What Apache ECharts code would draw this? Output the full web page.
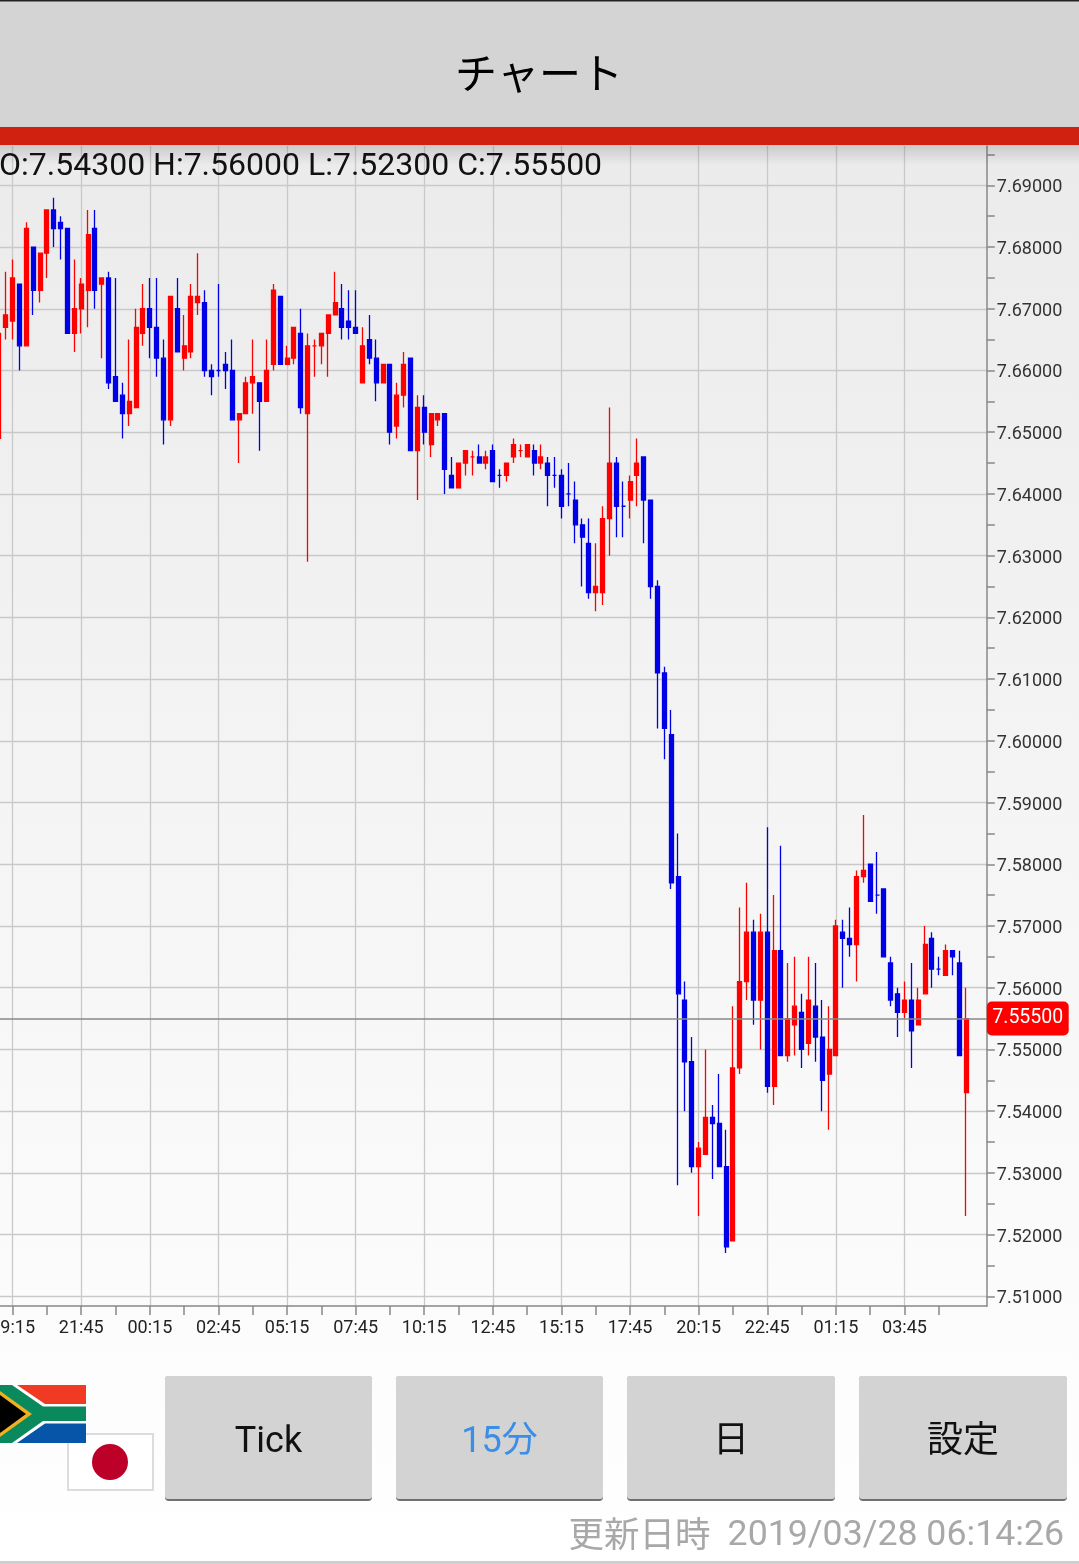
<!DOCTYPE html>
<html><head><meta charset="utf-8">
<style>html,body{margin:0;padding:0;background:#fff;overflow:hidden}#c{width:1079px;height:1564px}</style>
<script src="https://cdn.jsdelivr.net/npm/echarts@6/dist/echarts.min.js"></script>
</head><body><div id="c"></div>
<script>
const startTime = [18, 45];
const axisPadCount = 3;
const opens = [7.649,7.667,7.668,7.674,7.664,7.680,7.673,7.679,7.686,7.684,7.683,7.666,7.670,7.673,7.683,7.674,7.675,7.659,7.656,7.653,7.654,7.666,7.670,7.667,7.662,7.652,7.670,7.662,7.663,7.671,7.671,7.660,7.660,7.661,7.660,7.652,7.653,7.658,7.658,7.655,7.661,7.672,7.661,7.662,7.666,7.653,7.664,7.664,7.666,7.669,7.670,7.668,7.667,7.658,7.665,7.662,7.658,7.661,7.651,7.656,7.662,7.647,7.654,7.648,7.652,7.653,7.643,7.641,7.645,7.646,7.646,7.645,7.647,7.643,7.643,7.646,7.647,7.646,7.647,7.645,7.645,7.643,7.643,7.640,7.639,7.635,7.632,7.624,7.624,7.636,7.645,7.638,7.639,7.643,7.646,7.639,7.625,7.611,7.601,7.578,7.558,7.548,7.531,7.533,7.539,7.538,7.531,7.519,7.547,7.561,7.569,7.558,7.569,7.544,7.566,7.549,7.554,7.556,7.551,7.557,7.552,7.546,7.549,7.569,7.568,7.567,7.578,7.580,7.575,7.576,7.564,7.559,7.556,7.558,7.554,7.559,7.568,7.563,7.562,7.566,7.564,7.543];
const closes = [7.666,7.669,7.675,7.664,7.683,7.673,7.679,7.686,7.683,7.683,7.666,7.670,7.674,7.682,7.673,7.675,7.658,7.655,7.653,7.655,7.667,7.670,7.667,7.662,7.652,7.672,7.663,7.664,7.672,7.672,7.660,7.659,7.660,7.660,7.652,7.653,7.658,7.659,7.655,7.660,7.673,7.661,7.662,7.667,7.654,7.664,7.664,7.666,7.669,7.671,7.667,7.667,7.666,7.664,7.662,7.658,7.661,7.650,7.656,7.661,7.647,7.654,7.650,7.653,7.653,7.644,7.641,7.645,7.647,7.646,7.645,7.646,7.642,7.643,7.645,7.648,7.647,7.648,7.645,7.646,7.643,7.643,7.638,7.640,7.635,7.633,7.624,7.625,7.636,7.645,7.638,7.638,7.642,7.645,7.639,7.625,7.611,7.602,7.577,7.559,7.548,7.531,7.534,7.539,7.538,7.531,7.518,7.547,7.561,7.569,7.558,7.569,7.544,7.566,7.549,7.555,7.557,7.550,7.558,7.552,7.545,7.550,7.570,7.568,7.567,7.578,7.579,7.574,7.575,7.565,7.558,7.556,7.558,7.553,7.558,7.567,7.563,7.563,7.566,7.565,7.549,7.555];
const lows = [7.649,7.665,7.665,7.660,7.664,7.669,7.671,7.675,7.680,7.678,7.666,7.663,7.666,7.667,7.670,7.662,7.657,7.655,7.649,7.651,7.654,7.664,7.662,7.659,7.648,7.651,7.663,7.660,7.662,7.669,7.659,7.656,7.659,7.657,7.652,7.645,7.653,7.653,7.647,7.655,7.660,7.661,7.661,7.661,7.653,7.629,7.659,7.661,7.659,7.669,7.665,7.665,7.666,7.658,7.661,7.655,7.658,7.648,7.649,7.654,7.647,7.639,7.648,7.646,7.651,7.640,7.641,7.641,7.643,7.643,7.645,7.644,7.642,7.641,7.642,7.645,7.646,7.646,7.643,7.644,7.638,7.641,7.636,7.638,7.632,7.625,7.623,7.621,7.622,7.630,7.633,7.633,7.636,7.638,7.632,7.623,7.602,7.597,7.576,7.528,7.540,7.530,7.523,7.533,7.529,7.531,7.517,7.519,7.546,7.558,7.554,7.550,7.543,7.541,7.549,7.548,7.549,7.547,7.549,7.548,7.540,7.537,7.549,7.560,7.565,7.561,7.577,7.574,7.572,7.565,7.557,7.552,7.555,7.547,7.554,7.559,7.560,7.562,7.562,7.562,7.549,7.523];
const highs = [7.666,7.676,7.678,7.674,7.684,7.680,7.679,7.686,7.688,7.685,7.683,7.678,7.675,7.686,7.686,7.675,7.676,7.675,7.658,7.665,7.670,7.674,7.675,7.675,7.665,7.672,7.675,7.669,7.674,7.679,7.673,7.661,7.674,7.663,7.665,7.653,7.659,7.665,7.658,7.665,7.674,7.672,7.664,7.667,7.670,7.666,7.665,7.666,7.669,7.676,7.674,7.673,7.673,7.667,7.669,7.665,7.661,7.661,7.658,7.663,7.662,7.656,7.656,7.653,7.653,7.653,7.646,7.645,7.647,7.647,7.648,7.647,7.648,7.644,7.645,7.649,7.648,7.648,7.648,7.648,7.646,7.646,7.644,7.645,7.642,7.636,7.636,7.632,7.638,7.654,7.646,7.642,7.643,7.649,7.646,7.639,7.626,7.612,7.605,7.585,7.561,7.552,7.535,7.550,7.541,7.546,7.537,7.557,7.573,7.577,7.571,7.572,7.586,7.575,7.583,7.564,7.565,7.559,7.565,7.564,7.558,7.557,7.571,7.571,7.573,7.579,7.588,7.580,7.582,7.576,7.565,7.560,7.561,7.564,7.560,7.570,7.569,7.565,7.567,7.566,7.566,7.560];
const currentPrice = 7.555;
const priceTicks = [7.51,7.515,7.52,7.525,7.53,7.535,7.54,7.545,7.55,7.555,7.56,7.565,7.57,7.575,7.58,7.585,7.59,7.595,7.60,7.605,7.61,7.615,7.62,7.625,7.63,7.635,7.64,7.645,7.65,7.655,7.66,7.665,7.67,7.675,7.68,7.685,7.69,7.695];
const priceLabels = [7.51,7.52,7.53,7.54,7.55,7.56,7.57,7.58,7.59,7.60,7.61,7.62,7.63,7.64,7.65,7.66,7.67,7.68,7.69];
const blueDojiIndexes = [32,73,81,83,91,128,137];
const ohlcText = "O:7.54300 H:7.56000 L:7.52300 C:7.55500";
const titleText = "チャート";
const buttonLabels = ["Tick","15分","日","設定"];
const updatedLabel = "更新日時";
const updatedStamp = "2019/03/28 06:14:26";

const categories = [];
for (let i = 0; i < opens.length + axisPadCount; i++) {
  const m = startTime[0] * 60 + startTime[1] + i * 15;
  const h = Math.floor(m / 60) % 24, n = m % 60;
  categories.push(String(h).padStart(2, "0") + ":" + String(n).padStart(2, "0"));
}
const RED = "#ff0000", BLUE = "#0000e6";
const candleData = opens.map((o, i) => {
  const v = [o, closes[i], lows[i], highs[i]];
  if (blueDojiIndexes.includes(i)) return { value: v, itemStyle: { color: BLUE, color0: BLUE, borderColor: BLUE, borderColor0: BLUE } };
  if (o === closes[i]) return { value: v, itemStyle: { color: RED, color0: RED, borderColor: RED, borderColor0: RED } };
  return v;
});
const isMajor = i => (i - 2) % 10 === 0 && i < opens.length;
const isTick = i => (i - 2) % 5 === 0 && i < opens.length;

const btnX = [165, 396, 627, 859], btnW = [207, 207, 208, 208];
const graphics = [
  { type: "rect", z: 100, shape: { x: 0, y: 0, width: 1079, height: 127 }, style: { fill: "#d4d4d4" } },
  { type: "rect", z: 101, shape: { x: 0, y: 0, width: 1079, height: 1.5 }, style: { fill: "#222" } },
  { type: "text", z: 102, style: { x: 539, y: 73, text: titleText, fill: "#000", font: '42px "Noto Sans CJK JP"', textAlign: "center", textVerticalAlign: "middle" } },
  { type: "rect", z: 101, shape: { x: 0, y: 127, width: 1079, height: 18 }, style: { fill: "#d02010" } },
  { type: "rect", z: 100, shape: { x: 0, y: 145, width: 1079, height: 20 }, style: { fill: { type: "linear", x: 0, y: 0, x2: 0, y2: 1, colorStops: [{ offset: 0, color: "rgba(0,0,0,0.14)" }, { offset: 1, color: "rgba(0,0,0,0)" }] } } },
  { type: "text", z: 102, style: { x: -1, y: 166.5, text: ohlcText, fill: "#111", font: '32px Roboto', textAlign: "left", textVerticalAlign: "middle" } },
  // Japan flag
  { type: "rect", z: 50, shape: { x: 68, y: 1434, width: 85, height: 56 }, style: { fill: "#fff", stroke: "#dcdcdc", lineWidth: 2 } },
  { type: "circle", z: 51, shape: { cx: 110, cy: 1462, r: 18 }, style: { fill: "#bc0028" } },
  // South Africa flag
  { type: "rect", z: 52, shape: { x: 0, y: 1385, width: 86, height: 58 }, style: { fill: "#fff" } },
  { type: "polygon", z: 53, shape: { points: [[17, 1385], [86, 1385], [86, 1404], [45, 1404]] }, style: { fill: "#f03a24" } },
  { type: "polygon", z: 53, shape: { points: [[17, 1443], [86, 1443], [86, 1423.5], [45, 1423.5]] }, style: { fill: "#0655a8" } },
  { type: "polygon", z: 53, shape: { points: [[0, 1385], [12, 1385], [43, 1406.5], [86, 1406.5], [86, 1421], [43, 1421], [12, 1443], [0, 1443]] }, style: { fill: "#0a8a5c" } },
  { type: "polygon", z: 54, shape: { points: [[0, 1391], [32, 1414], [0, 1437]] }, style: { fill: "#f0b020" } },
  { type: "polygon", z: 55, shape: { points: [[0, 1395], [26, 1414], [0, 1433]] }, style: { fill: "#000" } },
  { type: "rect", z: 50, shape: { x: 0, y: 1561, width: 1079, height: 3 }, style: { fill: "#cfcfcf" } },
  { type: "text", z: 102, style: { x: 710.5, y: 1534, text: updatedLabel, fill: "#a8a8a8", font: '35.5px "Noto Sans CJK JP"', textAlign: "right", textVerticalAlign: "middle" } },
  { type: "text", z: 102, style: { x: 1064, y: 1536.5, text: updatedStamp, fill: "#a8a8a8", font: '35.7px Roboto', textAlign: "right", textVerticalAlign: "middle" } }
];
buttonLabels.forEach((t, i) => {
  graphics.push({ type: "rect", z: 50, shape: { x: btnX[i], y: 1376, width: btnW[i], height: 125, r: 4 }, style: { fill: "#707070" } });
  graphics.push({ type: "rect", z: 51, shape: { x: btnX[i], y: 1376, width: btnW[i], height: 123, r: 3 }, style: { fill: "#d3d3d3" } });
  graphics.push({ type: "text", z: 52, style: { x: btnX[i] + btnW[i] / 2, y: 1443, text: t, fill: i === 1 ? "#3a8ee8" : "#111", font: '36px Roboto, "Noto Sans CJK JP"', textAlign: "center", textVerticalAlign: "middle" } });
});

const chart = echarts.init(document.getElementById("c"), null, { width: 1079, height: 1564 });
chart.setOption({
  animation: false,
  backgroundColor: { type: "linear", x: 0, y: 0, x2: 0, y2: 1, colorStops: [{ offset: 0, color: "#e9e9e9" }, { offset: 1, color: "#ffffff" }] },
  grid: { left: -1.1, right: 92.2, top: 146, height: 1160, containLabel: false, outerBoundsMode: "none" },
  xAxis: {
    type: "category", data: categories, boundaryGap: false,
    axisLine: { show: true, lineStyle: { color: "#888", width: 1.5 } },
    axisTick: { show: true, interval: isTick, length: 9, lineStyle: { color: "#888", width: 1.5 } },
    axisLabel: { interval: isMajor, margin: 13, fontFamily: "Roboto", fontSize: 18, color: "#222", hideOverlap: false, showMinLabel: true, showMaxLabel: true },
    splitLine: { show: true, interval: isMajor, lineStyle: { color: "#c9c9c9", width: 1.3 } }
  },
  yAxis: [{
    type: "value", position: "right", min: 7.50843, max: 7.69637,
    axisLine: { show: true, lineStyle: { color: "#888", width: 1.5 } },
    axisTick: { show: false, customValues: priceLabels },
    axisLabel: { customValues: priceLabels, margin: 10, verticalAlign: "top", lineHeight: 5, fontFamily: "Roboto", fontSize: 18, color: "#333", formatter: v => v.toFixed(5) },
    splitLine: { show: true, lineStyle: { color: "#c9c9c9", width: 1.3 } }
  }, {
    type: "value", position: "right", min: 7.50843, max: 7.69637,
    axisLine: { show: false },
    axisTick: { show: true, customValues: priceTicks, length: 8, lineStyle: { color: "#888", width: 1.5 } },
    axisLabel: { show: false },
    splitLine: { show: false }
  }],
  series: [{
    type: "candlestick", data: candleData, barWidth: 4.5,
    itemStyle: { color: RED, color0: BLUE, borderColor: RED, borderColor0: BLUE, borderWidth: 1.3 },
    markLine: {
      silent: true, symbol: "none", animation: false, precision: 5,
      lineStyle: { color: "#888", width: 1.6, type: "solid" },
      data: [{ yAxis: currentPrice }],
      label: { show: true, position: "end", distance: 0, formatter: () => currentPrice.toFixed(5), backgroundColor: "#ff0000", color: "#fff", fontFamily: "Roboto", fontSize: 19.5, padding: [7, 5.5, 7, 5.5], borderRadius: 5 }
    }
  }],
  graphic: graphics
});
</script></body></html>
